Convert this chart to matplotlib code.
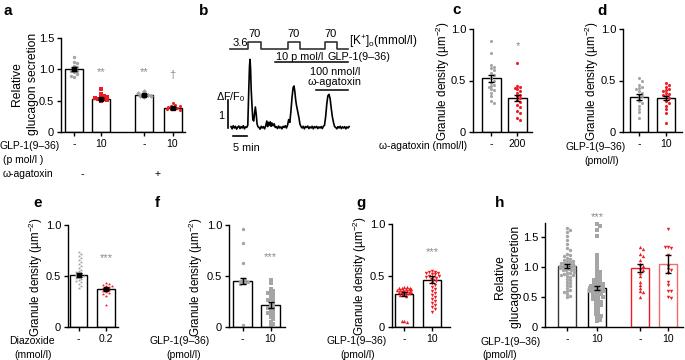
import matplotlib
matplotlib.use("Agg")
import matplotlib.pyplot as plt

W, H = 685, 360
plt.rcParams['font.family'] = ['Liberation Sans', 'DejaVu Sans']
plt.rcParams['mathtext.fontset'] = 'custom'
plt.rcParams['mathtext.rm'] = 'Liberation Sans'
plt.rcParams['mathtext.it'] = 'Liberation Sans:italic'
plt.rcParams['mathtext.bf'] = 'Liberation Sans:bold'

GREY = '#a5a5a5'
RED = '#ee1c24'
LIGHT_RED = '#f26b6b'
ANNOT = '#8a8a8a'

# ---- panel a: glucagon secretion, GLP-1(9-36) +/- omega-agatoxin
a_means = [1.01, 0.53, 0.59, 0.39]
a_sems = [0.03, 0.02, 0.015, 0.015]
a_pts = [
    [1.20, 1.12, 1.10, 1.05, 1.03, 1.00, 0.98, 0.95, 0.92, 0.88, 0.90, 0.97],
    [0.69, 0.60, 0.57, 0.55, 0.53, 0.52, 0.51, 0.50, 0.54, 0.56],
    [0.65, 0.61, 0.60, 0.59, 0.58, 0.57, 0.56, 0.62],
    [0.46, 0.43, 0.42, 0.40, 0.39, 0.38, 0.37, 0.36, 0.41, 0.35],
]
a_ticks = ['-', '10', '-', '10']

# ---- panel b: Ca2+ trace (time in min, dF/F0)
trace_t = [0, 0.4, 0.8, 1.2, 1.6, 2.0, 2.4, 2.8, 3.2, 3.6, 4.0, 4.4, 4.8, 5.2, 5.6, 6.0,
           6.3, 6.6, 6.8, 7.0, 7.2, 7.5, 7.8, 8.1, 8.4, 8.7, 9.0, 9.3, 9.6,
           10.0, 10.4, 10.8, 11.2, 11.6, 12.0, 12.4,
           12.8, 13.1, 13.4, 13.7, 14.0, 14.3, 14.6, 15.0, 15.4, 15.8,
           16.2, 16.6, 17.0, 17.4, 17.8, 18.2, 18.6, 19.0, 19.4, 19.8, 20.2, 20.6,
           21.0, 21.4, 21.8, 22.2, 22.5, 22.8, 23.1, 23.4, 23.7, 24.0, 24.3, 24.6, 25.0,
           25.4, 25.8, 26.2, 26.6, 27.0, 27.4, 27.8, 28.2, 28.6, 29.0, 29.4, 29.8, 30.2,
           30.6, 31.0, 31.4, 31.8, 32.2, 32.6, 33.0, 33.4,
           33.8, 34.2, 34.6, 35.0, 35.4, 35.8, 36.2, 36.6, 37.0,
           37.4, 37.8, 38.2, 38.6, 39.0, 39.4, 39.8, 40.2, 40.6, 41.0, 41.4, 41.8, 42.2]
trace_v = [0.05, -0.03, 0.08, 0.0, 0.06, -0.04, 0.03, 0.07, -0.02, 0.05, 0.0, 0.08, -0.03, 0.04, 0.02, 0.10,
           1.2, 2.2, 2.45, 2.1, 1.4, 0.8, 0.3, 0.25, 0.5, 0.75, 0.5, 0.15, 0.05,
           0.02, -0.04, 0.06, 0.0, 0.05, -0.03, 0.08,
           0.25, 0.05, 0.20, 0.10, 0.22, 0.06, 0.18, 0.08, 0.15, 0.02,
           0.05, -0.02, 0.07, 0.0, 0.04, -0.03, 0.06, 0.02, 0.08, 0.0, 0.10, 0.30,
           0.20, 0.6, 1.1, 1.45, 1.5, 1.3, 1.0, 0.8, 0.65, 0.5, 0.35, 0.15, 0.05,
           0.0, 0.06, -0.03, 0.05, 0.02, 0.07, -0.02, 0.04, 0.0, 0.06, -0.03, 0.05, 0.01,
           0.06, -0.02, 0.04, 0.0, 0.05, -0.02, 0.06, 0.10,
           0.4, 0.85, 1.15, 1.2, 1.05, 0.7, 0.4, 0.2, 0.05,
           0.02, -0.03, 0.05, 0.0, 0.06, -0.02, 0.04, 0.0, 0.05, -0.03, 0.04, 0.0, 0.05]
k_switch_t = [-0.4, 6.1, 10.7, 20.4, 24.6, 33.6, 37.9, 41.8]
k_conc = [3.6, 70, 3.6, 70, 3.6, 70, 3.6]
glp_t = [15.7, 41.8]
aga_t = [30.4, 41.8]

# ---- panel c: granule density, omega-agatoxin
c_means = [0.52, 0.33]
c_sems = [0.03, 0.025]
c_pts = [
    [0.88, 0.77, 0.65, 0.63, 0.62, 0.60, 0.57, 0.55, 0.52, 0.50, 0.48, 0.46, 0.45,
     0.44, 0.42, 0.41, 0.38, 0.35, 0.30, 0.28],
    [0.67, 0.45, 0.44, 0.43, 0.42, 0.40, 0.38, 0.36, 0.35, 0.33, 0.31, 0.29, 0.26,
     0.24, 0.20, 0.18, 0.14, 0.12],
]
c_ticks = ['-', '200']

# ---- panel d: granule density, GLP-1(9-36)
d_means = [0.34, 0.33]
d_sems = [0.025, 0.02]
d_pts = [
    [0.52, 0.50, 0.46, 0.44, 0.43, 0.42, 0.40, 0.38, 0.36, 0.35, 0.33, 0.30, 0.28,
     0.25, 0.22, 0.19, 0.14],
    [0.48, 0.46, 0.44, 0.42, 0.41, 0.40, 0.38, 0.37, 0.36, 0.35, 0.33, 0.30, 0.28,
     0.25, 0.22, 0.18, 0.09],
]
d_ticks = ['-', '10']

# ---- panel e: granule density, diazoxide
e_means = [0.51, 0.37]
e_sems = [0.015, 0.012]
e_pts = [
    [0.74, 0.72, 0.70, 0.68, 0.66, 0.64, 0.62, 0.60, 0.58, 0.56, 0.55, 0.54, 0.53,
     0.52, 0.51, 0.50, 0.50, 0.49, 0.48, 0.47, 0.46, 0.45, 0.44, 0.42, 0.40, 0.38],
    [0.43, 0.42, 0.41, 0.40, 0.40, 0.39, 0.38, 0.37, 0.36, 0.35, 0.34, 0.33, 0.32,
     0.30, 0.22],
]
e_ticks = ['-', '0.2']

# ---- panel f
f_means = [0.45, 0.22]
f_sems = [0.03, 0.03]
f_pts = [
    [0.96, 0.82, 0.63, 0.47, 0.46, 0.45, 0.44, 0.44, 0.43, 0.42, 0.02],
    [0.46, 0.43, 0.37, 0.35, 0.34, 0.33, 0.32, 0.30, 0.28, 0.27, 0.26, 0.25, 0.23,
     0.21, 0.20, 0.19, 0.18, 0.16, 0.15, 0.14, 0.13, 0.12, 0.10, 0.08, 0.05, 0.03, 0.02],
]
f_ticks = ['-', '10']

# ---- panel g
g_means = [0.32, 0.46]
g_sems = [0.02, 0.035]
g_pts = [
    [0.39, 0.385, 0.38, 0.38, 0.375, 0.37, 0.37, 0.365, 0.36, 0.36, 0.355, 0.35,
     0.35, 0.345, 0.34, 0.34, 0.335, 0.33, 0.33, 0.32, 0.31, 0.30, 0.06, 0.05, 0.055],
    [0.54, 0.53, 0.53, 0.52, 0.52, 0.51, 0.51, 0.50, 0.50, 0.49, 0.49, 0.48, 0.47,
     0.46, 0.45, 0.43, 0.41, 0.39, 0.37, 0.35, 0.33, 0.31, 0.29, 0.27, 0.25, 0.23,
     0.21, 0.19, 0.17, 0.15],
]
g_ticks = ['-', '10']

# ---- panel h
h_means = [1.01, 0.65, 0.98, 1.05]
h_sems = [0.03, 0.04, 0.07, 0.15]
h_pts = [
    [1.65, 1.62, 1.58, 1.52, 1.45, 1.38, 1.32, 1.28, 1.22, 1.20, 1.18, 1.15, 1.13,
     1.12, 1.10, 1.10, 1.08, 1.07, 1.06, 1.05, 1.05, 1.04, 1.03, 1.02, 1.01, 1.00,
     1.00, 0.99, 0.98, 0.97, 0.96, 0.95, 0.95, 0.94, 0.92, 0.90, 0.90, 0.88, 0.87,
     0.86, 0.85, 0.83, 0.80, 0.78, 0.75, 0.73, 0.70, 0.68, 0.65, 0.62, 0.60, 0.58,
     0.55, 0.52, 0.50],
    [1.72, 1.68, 1.62, 1.52, 1.20, 1.15, 1.10, 1.05, 1.00, 0.95, 0.92, 0.88, 0.85,
     0.82, 0.80, 0.78, 0.76, 0.75, 0.73, 0.72, 0.70, 0.70, 0.69, 0.68, 0.67, 0.66,
     0.65, 0.64, 0.63, 0.62, 0.61, 0.60, 0.60, 0.59, 0.58, 0.56, 0.55, 0.53, 0.52,
     0.50, 0.50, 0.48, 0.46, 0.45, 0.43, 0.42, 0.40, 0.38, 0.36, 0.35, 0.33, 0.30,
     0.28, 0.25, 0.22, 0.20, 0.18, 0.15, 0.12, 0.10],
    [1.33, 1.30, 1.22, 1.18, 1.12, 1.05, 1.02, 0.98, 0.95, 0.90, 0.85, 0.75, 0.70,
     0.65, 0.60, 0.58, 0.50],
    [1.63, 1.33, 1.32, 1.33, 1.20, 1.02, 0.97, 0.95, 0.90, 0.75, 0.70, 0.60, 0.60,
     0.50, 0.48],
]
h_ticks = ['-', '10', '-', '10']

fig = plt.figure(figsize=(W / 100, H / 100), dpi=100)


def px_axes(l, t, r, b):
    return fig.add_axes([l / W, 1 - b / H, (r - l) / W, (b - t) / H])


def ftext(x, y, s, **kw):
    kw.setdefault('fontsize', 7.5)
    kw.setdefault('ha', 'center')
    kw.setdefault('va', 'center')
    fig.text(x / W, 1 - y / H, s, **kw)


def swarm(vals, ppu, maxw, d=2.8):
    # simple beeswarm in px, kept within +/- maxw; overlap allowed when crowded
    placed, offs = [], []
    n = int(maxw / (d / 2))
    cands = [0.0]
    for k in range(1, n + 1):
        cands += [k * d / 2, -k * d / 2]
    for v in vals:
        y = v * ppu
        best, best_gap = 0.0, -1
        for c in cands:
            gap = min([((c - px) ** 2 + (y - py) ** 2) ** 0.5 for px, py in placed] or [99])
            if gap >= d:
                best = c
                break
            if gap > best_gap:
                best, best_gap = c, gap
        placed.append((best, y))
        offs.append(best)
    return offs


def bar_panel(rect, centers, width, means, sems, pts, markers, colors, edges,
              ylim, yticks, yticklabels, ticks, annots, mean_marker=False):
    l, t, r, b = rect
    ax = px_axes(l, t, r, b)
    ax.set_xlim(l, r)
    ax.set_ylim(*ylim)
    ppu = (b - t) / (ylim[1] - ylim[0])
    for cx, m, e, vals, mk, c, ec in zip(centers, means, sems, pts, markers, colors, edges):
        ax.bar(cx, m, width, color='white', edgecolor=ec, linewidth=1.0, zorder=1)
        offs = swarm(vals, ppu, width / 2 - 1)
        ax.scatter([cx + o for o in offs], vals, s=6, marker=mk, color=c,
                   linewidths=0, zorder=2, clip_on=False)
        ax.errorbar(cx, m, yerr=e, fmt='s' if mean_marker else 'none', ms=2.5,
                    color='black', elinewidth=1, capsize=2, capthick=1, zorder=3)
    for i, y, s in annots:
        ax.text(centers[i], y, s, ha='center', va='center', fontsize=8,
                color=ANNOT, clip_on=False)
    for sp in ['top', 'right']:
        ax.spines[sp].set_visible(False)
    for sp in ['left', 'bottom']:
        ax.spines[sp].set_linewidth(1.0)
    ax.set_yticks(yticks)
    ax.set_yticklabels(yticklabels, fontsize=8)
    ax.set_xticks(centers)
    ax.set_xticklabels(ticks, fontsize=7.5)
    ax.tick_params(length=3, width=1.0, pad=2)
    return ax


GD = 'Granule density (µm$^{-2}$)'
RG = 'Relative\nglucagon secretion'

# a
bar_panel((61, 38, 185, 132), [74, 101, 144, 172.5], 18, a_means, a_sems, a_pts,
          ['o', 's', 'D', 'h'], [GREY, RED, GREY, RED], ['black'] * 4,
          (0, 1.5), [0, 0.5, 1.0, 1.5], ['0', '0.5', '1.0', '1.5'], a_ticks,
          [(1, 0.96, '**'), (2, 0.96, '**'), (3, 0.91, '†')], mean_marker=True)
ftext(25, 84, RG, rotation=90, fontsize=8.7, linespacing=1.4)
ftext(60, 146, 'GLP-1(9–36)', ha='right')
ftext(3, 160, '(p mol/l )', ha='left')
ftext(3, 174, 'ω-agatoxin', ha='left')
ftext(82, 174, '-')
ftext(158, 174, '+')

# b
T0, PPM, Y0, PPU = 231, 2.8, 128, 28
bl, bt, br, bb = 205, 20, 460, 165
axb = px_axes(bl, bt, br, bb)
axb.set_xlim((bl - T0) / PPM, (br - T0) / PPM)
axb.set_ylim((Y0 - bb) / PPU, (Y0 - bt) / PPU)
axb.axis('off')
axb.plot(trace_t, trace_v, color='black', lw=1.2)
lo, hi = (Y0 - 49) / PPU, (Y0 - 42) / PPU
xs, ys = [], []
for i, c in enumerate(k_conc):
    lev = hi if c > 10 else lo
    xs += [k_switch_t[i], k_switch_t[i + 1]]
    ys += [lev, lev]
axb.plot(xs, ys, color='#333333', lw=1.2)
axb.plot(glp_t, [(Y0 - 62) / PPU] * 2, color='black', lw=1.1)
axb.plot(aga_t, [(Y0 - 90) / PPU] * 2, color='black', lw=1.1)
axb.plot([-1.1, -1.1], [0, 1], color='black', lw=1.2)
axb.plot([0.7, 5.7], [-0.29, -0.29], color='black', lw=1.2)
ftext(240, 43, '3.6', fontsize=8)
for x in [254.5, 294, 331]:
    ftext(x, 34, '70', fontsize=8)
ftext(349, 42, '[K$^{+}$]$_{\\rm o}$(mmol/l)', ha='left', fontsize=8.5)
ftext(276, 57, '10 p mol/l', ha='left', fontsize=7.8)
ftext(328, 57, 'GLP-1(9–36)', ha='left', fontsize=7.8)
ftext(335, 72, '100 nmol/l', fontsize=7.8)
ftext(335, 82, 'ω-agatoxin', fontsize=7.8)
ftext(216, 97, 'ΔF/F$_0$', ha='left', fontsize=7.8)
ftext(221, 116, '1', fontsize=7.8)
ftext(233, 148, '5 min', ha='left', fontsize=7.8)

# c
bar_panel((473, 29, 532, 132), [491.5, 517.5], 19, c_means, c_sems, c_pts,
          ['h', 'h'], [GREY, RED], ['black'] * 2,
          (0, 1.0), [0, 0.5, 1.0], ['0', '0.5', '1.0'], c_ticks, [(1, 0.83, '*')])
ftext(443, 81, GD, rotation=90, fontsize=8.4)
ftext(467, 146, 'ω-agatoxin (nmol/l)', ha='right')

# d
bar_panel((623, 29, 682, 132), [639, 666], 18, d_means, d_sems, d_pts,
          ['h', 'h'], [GREY, RED], ['black'] * 2,
          (0, 1.0), [0, 0.5, 1.0], ['0', '0.5', '1.0'], d_ticks, [])
ftext(592, 81, GD, rotation=90, fontsize=8.4)
ftext(626, 147, 'GLP-1(9–36)', ha='right')
ftext(602, 161, '(pmol/l)')

# e
bar_panel((68, 225, 118, 327), [78.5, 106], 17.5, e_means, e_sems, e_pts,
          ['*', '*'], [GREY, RED], ['black'] * 2,
          (0, 1.0), [0, 0.5, 1.0], ['0', '0.5', '1.0'], e_ticks,
          [(1, 0.68, '***')], mean_marker=True)
ftext(36, 277, GD, rotation=90, fontsize=8.4)
ftext(55, 341, 'Diazoxide', ha='right')
ftext(33, 355, '(mmol/l)')

# f
bar_panel((229, 225, 285, 327), [242.5, 270.5], 19, f_means, f_sems, f_pts,
          ['o', 's'], [GREY, GREY], ['black'] * 2,
          (0, 1.0), [0, 0.5, 1.0], ['0', '0.5', '1.0'], f_ticks, [(1, 0.69, '***')])
ftext(196, 277, GD, rotation=90, fontsize=8.4)
ftext(210, 341, 'GLP-1(9–36)', ha='right')
ftext(184, 355, '(pmol/l)')

# g
bar_panel((392, 224, 450, 327), [404.5, 432], 18, g_means, g_sems, g_pts,
          ['^', 'v'], [RED, RED], ['black'] * 2,
          (0, 1.0), [0, 0.5, 1.0], ['0', '0.5', '1.0'], g_ticks, [(1, 0.73, '***')])
ftext(360, 276, GD, rotation=90, fontsize=8.4)
ftext(387, 341, 'GLP-1(9–36)', ha='right')
ftext(358, 355, '(pmol/l)')

# h
bar_panel((545, 223, 683, 327), [567, 597, 640, 668], 18, h_means, h_sems, h_pts,
          ['o', 's', '^', 'v'], [GREY, GREY, RED, RED],
          ['#333333', 'black', RED, LIGHT_RED],
          (0, 1.73), [0, 0.5, 1.0, 1.5], ['0', '0.5', '1.0', '1.5'], h_ticks,
          [(1, 1.83, '***')])
ftext(508, 277, RG, rotation=90, fontsize=8.7, linespacing=1.4)
ftext(541, 342, 'GLP-1(9–36)', ha='right')
ftext(500, 355, '(pmol/l)')

# panel letters
for s, x, y in [('a', 3, 15), ('b', 199, 15), ('c', 452, 14), ('d', 597, 15),
                ('e', 33, 207), ('f', 155, 207), ('g', 356, 207), ('h', 495, 207)]:
    fig.text(x / W, 1 - y / H, s, fontsize=11, fontweight='bold', ha='left', va='baseline')

fig.savefig('out.png', dpi=100)
